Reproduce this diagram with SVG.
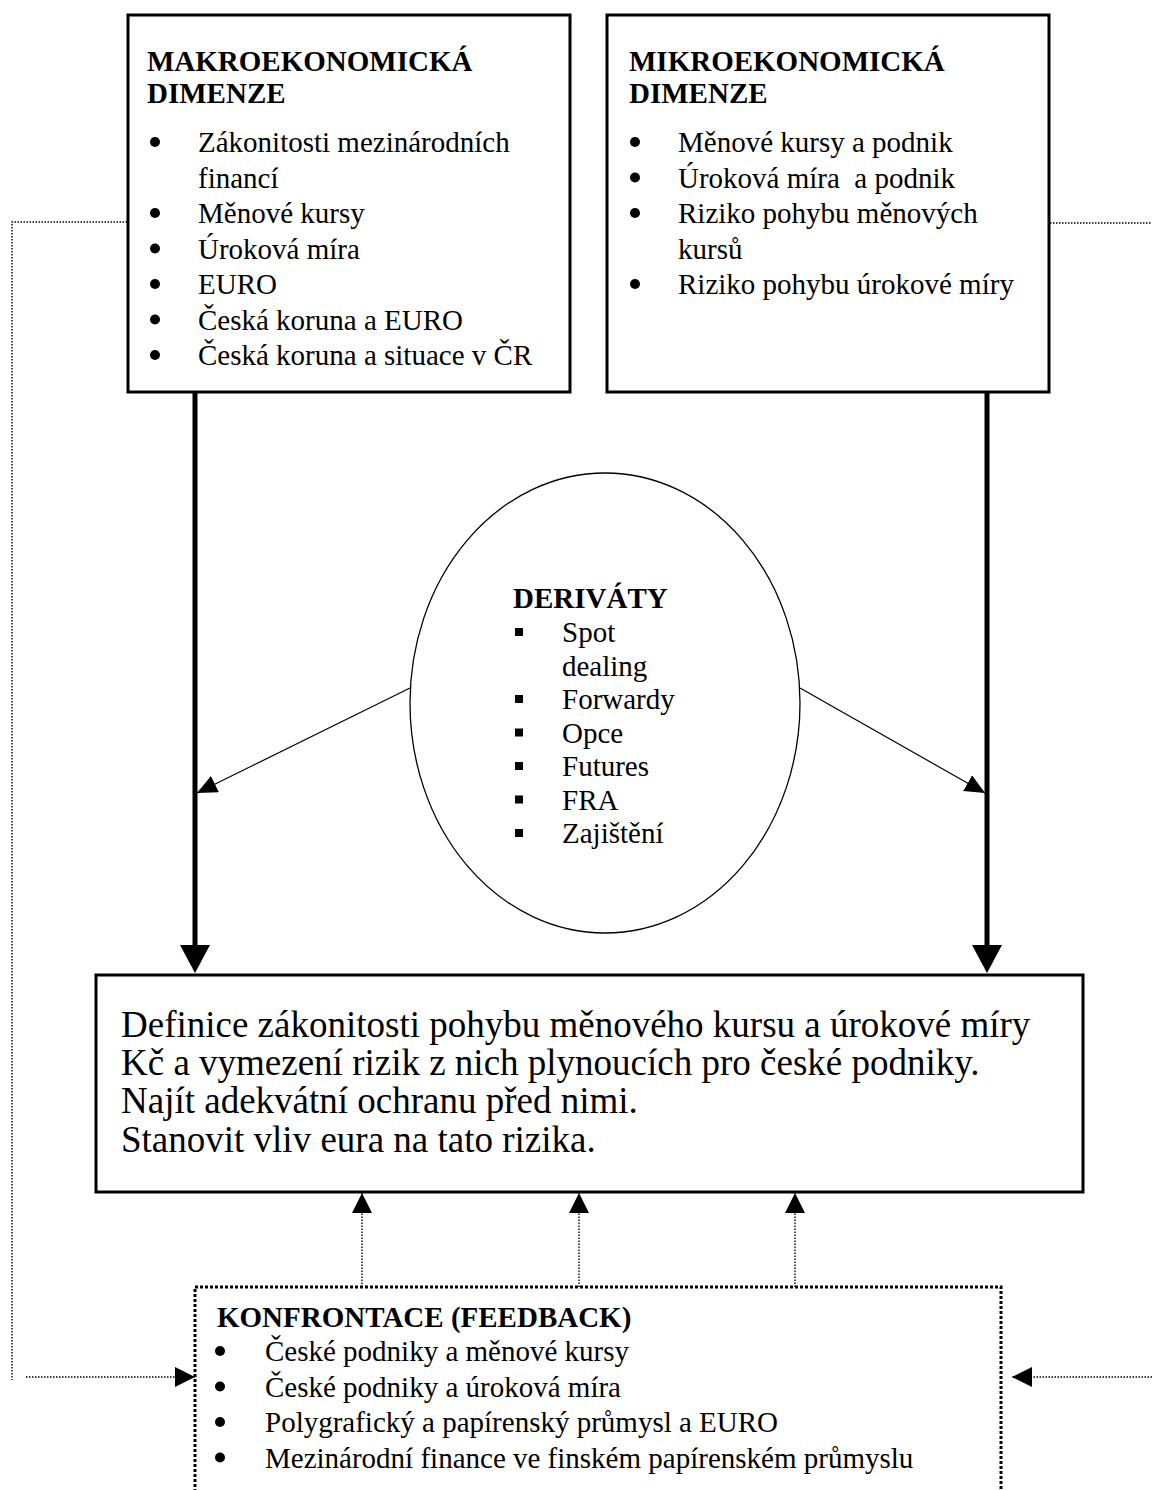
<svg xmlns="http://www.w3.org/2000/svg" width="1152" height="1490" viewBox="0 0 1152 1490">
<style>
.box{fill:#fff;stroke:#000;stroke-width:3}
.t{font-family:"Liberation Serif","Times New Roman",serif;font-size:29px;fill:#000}
.b{font-weight:bold}
.big{font-size:37px}
.thick{stroke:#000;stroke-width:5;fill:none}
.thin{stroke:#000;stroke-width:1.2;fill:none}
.dot{stroke:#000;stroke-width:1.4;stroke-dasharray:1.5 1.5;fill:none}
.fb{fill:none;stroke:#000;stroke-width:3;stroke-dasharray:3 2}
</style>
<defs>
<marker id="ahThick" markerUnits="userSpaceOnUse" markerWidth="28" markerHeight="30" refX="0" refY="15" orient="auto"><path d="M0,0 L28,15 L0,30 z" fill="#000"/></marker>
<marker id="ahThin" markerUnits="userSpaceOnUse" markerWidth="20" markerHeight="18" refX="20" refY="9" orient="auto"><path d="M0,0 L20,9 L0,18 z" fill="#000"/></marker>
<marker id="ahDot" markerUnits="userSpaceOnUse" markerWidth="20" markerHeight="20" refX="20" refY="10" orient="auto"><path d="M0,0 L20,10 L0,20 z" fill="#000"/></marker>
<circle id="bul" r="5" fill="#000"/>
<rect id="sq" width="8" height="8" fill="#000"/>
</defs>
<rect width="1152" height="1490" fill="#fff"/>

<g id="connectors">
<line class="thick" x1="195" y1="392" x2="195" y2="945" marker-end="url(#ahThick)"/>
<line class="thick" x1="987" y1="392" x2="987" y2="945" marker-end="url(#ahThick)"/>
<line class="thin" x1="410" y1="688" x2="197" y2="793" marker-end="url(#ahThin)"/>
<line class="thin" x1="800" y1="688" x2="985" y2="793" marker-end="url(#ahThin)"/>
<line class="dot" x1="362" y1="1287" x2="362" y2="1193" marker-end="url(#ahDot)"/>
<line class="dot" x1="579" y1="1287" x2="579" y2="1193" marker-end="url(#ahDot)"/>
<line class="dot" x1="795" y1="1287" x2="795" y2="1193" marker-end="url(#ahDot)"/>
<polyline class="dot" points="127,222 12,222 12,1380"/>
<line class="dot" x1="26" y1="1377" x2="195" y2="1377" marker-end="url(#ahDot)"/>
<line class="dot" x1="1050" y1="223" x2="1152" y2="223"/>
<line class="dot" x1="1152" y1="1377" x2="1012" y2="1377" marker-end="url(#ahDot)"/>
</g>

<g id="makro">
<rect class="box" x="128" y="15" width="442" height="377"/>
<text class="t b" x="147" y="71">MAKROEKONOMICKÁ</text>
<text class="t b" x="147" y="103">DIMENZE</text>
<use href="#bul" x="155" y="142"/><text class="t" x="198" y="152">Zákonitosti mezinárodních</text>
<text class="t" x="198" y="187.5">financí</text>
<use href="#bul" x="155" y="213"/><text class="t" x="198" y="223">Měnové kursy</text>
<use href="#bul" x="155" y="248.5"/><text class="t" x="198" y="258.5">Úroková míra</text>
<use href="#bul" x="155" y="284"/><text class="t" x="198" y="294">EURO</text>
<use href="#bul" x="155" y="319.5"/><text class="t" x="198" y="329.5">Česká koruna a EURO</text>
<use href="#bul" x="155" y="355"/><text class="t" x="198" y="365">Česká koruna a situace v ČR</text>
</g>

<g id="mikro">
<rect class="box" x="607" y="15" width="442" height="377"/>
<text class="t b" x="629" y="71">MIKROEKONOMICKÁ</text>
<text class="t b" x="629" y="103">DIMENZE</text>
<use href="#bul" x="635" y="142"/><text class="t" x="678" y="152">Měnové kursy a podnik</text>
<use href="#bul" x="635" y="177.5"/><text class="t" x="678" y="187.5">Úroková míra&#160; a podnik</text>
<use href="#bul" x="635" y="213"/><text class="t" x="678" y="223">Riziko pohybu měnových</text>
<text class="t" x="678" y="258.5">kursů</text>
<use href="#bul" x="635" y="284"/><text class="t" x="678" y="294">Riziko pohybu úrokové míry</text>
</g>

<g id="derivaty">
<ellipse cx="605" cy="703" rx="195" ry="230" fill="#fff" stroke="#000" stroke-width="1.3"/>
<text class="t b" x="513" y="608">DERIVÁTY</text>
<use href="#sq" x="515" y="628"/><text class="t" x="562" y="642">Spot</text>
<text class="t" x="562" y="675.5">dealing</text>
<use href="#sq" x="515" y="695"/><text class="t" x="562" y="709">Forwardy</text>
<use href="#sq" x="515" y="728.5"/><text class="t" x="562" y="742.5">Opce</text>
<use href="#sq" x="515" y="762"/><text class="t" x="562" y="776">Futures</text>
<use href="#sq" x="515" y="795.5"/><text class="t" x="562" y="809.5">FRA</text>
<use href="#sq" x="515" y="829"/><text class="t" x="562" y="843">Zajištění</text>
</g>

<g id="cil">
<rect class="box" x="96" y="975" width="987" height="217"/>
<text class="t big" x="121" y="1037">Definice zákonitosti pohybu měnového kursu a úrokové míry</text>
<text class="t big" x="121" y="1075">Kč a vymezení rizik z nich plynoucích pro české podniky.</text>
<text class="t big" x="121" y="1113">Najít adekvátní ochranu před nimi.</text>
<text class="t big" x="121" y="1152">Stanovit vliv eura na tato rizika.</text>
</g>

<g id="konfrontace">
<path class="fb" d="M195,1492 V1287 H1001 V1492"/>
<text class="t b" x="217" y="1327">KONFRONTACE (FEEDBACK)</text>
<use href="#bul" x="220" y="1351"/><text class="t" x="265" y="1361">České podniky a měnové kursy</text>
<use href="#bul" x="220" y="1386.5"/><text class="t" x="265" y="1396.5">České podniky a úroková míra</text>
<use href="#bul" x="220" y="1422"/><text class="t" x="265" y="1432">Polygrafický a papírenský průmysl a EURO</text>
<use href="#bul" x="220" y="1457.5"/><text class="t" x="265" y="1467.5">Mezinárodní finance ve finském papírenském průmyslu</text>
</g>
</svg>
